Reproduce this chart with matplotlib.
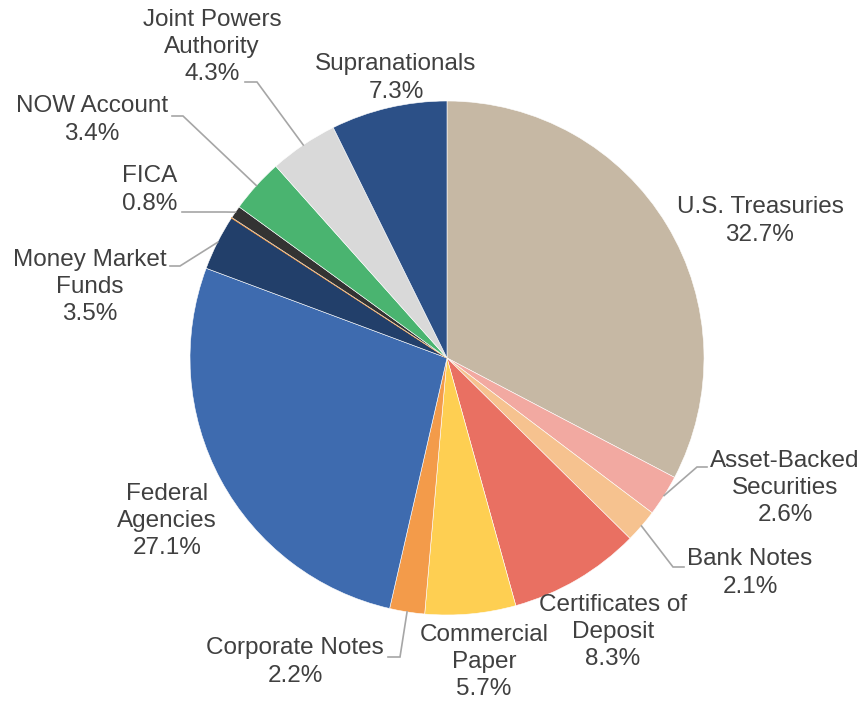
import numpy as np
import matplotlib.pyplot as plt

plt.rcParams['font.family'] = ['Liberation Sans', 'DejaVu Sans']

# data (clockwise from 12 o'clock)
names = ["U.S. Treasuries", "Asset-Backed\nSecurities", "Bank Notes", "Certificates of\nDeposit",
         "Commercial\nPaper", "Corporate Notes", "Federal\nAgencies", "Money Market\nFunds",
         "", "FICA", "NOW Account", "Joint Powers\nAuthority", "Supranationals"]
shares = [32.7, 2.6, 2.1, 8.3, 5.7, 2.2, 27.1, 3.5, 0.03, 0.8, 3.4, 4.3, 7.3]
colors = ["#C6B8A4", "#F2A9A1", "#F6C28F", "#E97062", "#FECF52", "#F39B4A", "#3E6BAF", "#223F6A",
          "#E8892E", "#333333", "#4AB470", "#D9D9D9", "#2C5087"]

# layout in pixels (reference image coords)
W, H = 860, 701
cx, cy, R = 447, 358, 257
label_px = [(760, 221), (785, 488), (750, 573), (613, 632), (484, 662), (295, 662), (167, 521),
            (90, 287), None, (150, 190), (92, 120), (212, 47), (396, 78)]
# leader line (elbow, end) in pixels; None = no leader
leaders = [None, ((697, 467), (707, 467)), ((673, 567), (684, 567)), None, None,
           ((400, 657), (388, 657)), None, ((180, 266), (170, 266)), None,
           ((225, 212), (182, 212)), ((183, 116), (172, 116)), ((257, 82), (245, 82)), None]


def to_data(p):
    return ((p[0] - cx) / R, (cy - p[1]) / R)


fig = plt.figure(figsize=(W / 100, H / 100), dpi=100)
ax = fig.add_axes([0, 0, 1, 1])

wedges, _ = ax.pie(shares, colors=colors, startangle=90, counterclock=False, radius=1,
                   wedgeprops=dict(linewidth=0.4, edgecolor='white'))
wedges[8].set_edgecolor(colors[8])
wedges[8].set_linewidth(0.8)

ax.set_xlim(-cx / R, (W - cx) / R)
ax.set_ylim(-(H - cy) / R, cy / R)
ax.set_aspect('equal')
ax.axis('off')

total = sum(shares)
cum = np.cumsum([0] + shares)
for i, name in enumerate(names):
    if not name:
        continue
    pct = shares[i] / total * 100
    tx, ty = to_data(label_px[i])
    ax.text(tx, ty, f"{name}\n{pct:.1f}%", ha='center', va='center', fontsize=17.5,
            color='#404040', linespacing=1.3)
    if leaders[i] is not None:
        mid = (cum[i] + cum[i + 1]) / 2 / total
        ang = np.deg2rad(90 - 360 * mid)
        p0 = (np.cos(ang), np.sin(ang))
        p1 = to_data(leaders[i][0])
        p2 = to_data(leaders[i][1])
        ax.plot([p0[0], p1[0], p2[0]], [p0[1], p1[1], p2[1]], color='#A6A6A6', lw=1.2,
                solid_joinstyle='miter')

fig.savefig("out.png", dpi=100)
